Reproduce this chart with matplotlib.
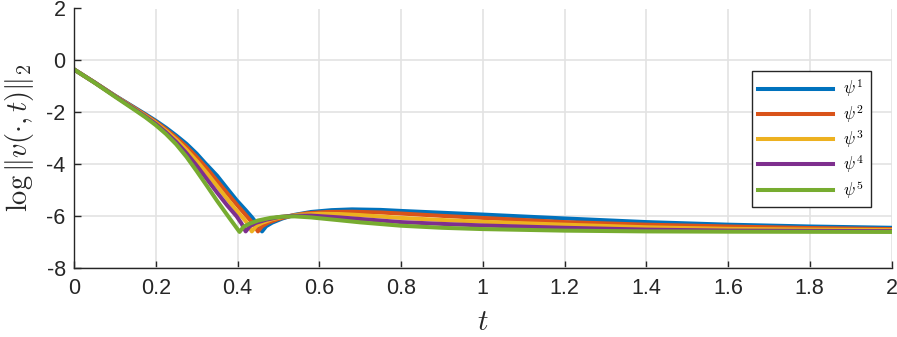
import matplotlib
matplotlib.use("Agg")
import matplotlib.pyplot as plt

# ---- data ----
t_blue = [0, 0.05, 0.1, 0.15, 0.175, 0.2, 0.225, 0.25, 0.275, 0.3, 0.32, 0.35, 0.375, 0.398,
          0.42, 0.435, 0.45, 0.46,
          0.47, 0.485, 0.51, 0.54, 0.58, 0.63, 0.68, 0.75, 0.8, 0.9, 1.0, 1.2, 1.4, 1.6, 1.8, 2.0]
y_blue = [-0.35, -0.85, -1.36, -1.84, -2.08, -2.33, -2.6, -2.9, -3.22, -3.6, -3.95, -4.45, -4.95, -5.4,
          -5.78, -6.05, -6.35, -6.6,
          -6.4, -6.26, -6.1, -5.96, -5.85, -5.78, -5.75, -5.77, -5.81, -5.88, -5.95, -6.1, -6.24, -6.34, -6.41, -6.46]

t_orange = [0, 0.05, 0.1, 0.15, 0.175, 0.2, 0.225, 0.25, 0.275, 0.3, 0.325, 0.35, 0.375, 0.4,
            0.423, 0.44, 0.45,
            0.46, 0.475, 0.5, 0.53, 0.57, 0.62, 0.68, 0.75, 0.8, 0.9, 1.0, 1.2, 1.4, 1.6, 1.8, 2.0]
y_orange = [-0.35, -0.85, -1.37, -1.86, -2.11, -2.37, -2.66, -2.98, -3.33, -3.73, -4.17, -4.65, -5.13, -5.6,
            -6.02, -6.33, -6.6,
            -6.4, -6.26, -6.12, -6.0, -5.9, -5.85, -5.84, -5.87, -5.91, -6.0, -6.08, -6.24, -6.34, -6.41, -6.47, -6.51]

t_yellow = [0, 0.05, 0.1, 0.15, 0.175, 0.2, 0.225, 0.25, 0.275, 0.3, 0.325, 0.35, 0.375, 0.395,
            0.41, 0.425, 0.435,
            0.445, 0.46, 0.485, 0.515, 0.55, 0.6, 0.65, 0.7, 0.8, 0.9, 1.0, 1.2, 1.4, 1.6, 1.8, 2.0]
y_yellow = [-0.35, -0.85, -1.37, -1.88, -2.14, -2.41, -2.72, -3.06, -3.45, -3.88, -4.35, -4.85, -5.35, -5.75,
            -6.02, -6.3, -6.6,
            -6.4, -6.27, -6.13, -6.03, -5.96, -5.92, -5.93, -5.97, -6.08, -6.16, -6.23, -6.34, -6.44, -6.5, -6.53, -6.55]

t_purple = [0, 0.05, 0.1, 0.15, 0.175, 0.2, 0.225, 0.25, 0.275, 0.3, 0.325, 0.35, 0.375, 0.398,
            0.41, 0.42,
            0.43, 0.445, 0.47, 0.5, 0.53, 0.58, 0.65, 0.7, 0.8, 0.9, 1.0, 1.2, 1.4, 1.6, 1.8, 2.0]
y_purple = [-0.35, -0.85, -1.38, -1.9, -2.17, -2.45, -2.78, -3.15, -3.58, -4.06, -4.58, -5.1, -5.6, -6.02,
            -6.3, -6.6,
            -6.4, -6.27, -6.15, -6.05, -6.0, -5.99, -6.06, -6.12, -6.24, -6.31, -6.37, -6.46, -6.53, -6.57, -6.58, -6.59]

t_green = [0, 0.05, 0.1, 0.15, 0.175, 0.2, 0.225, 0.25, 0.275, 0.3, 0.325, 0.35, 0.38, 0.405,
           0.415, 0.43, 0.45, 0.48, 0.51, 0.54, 0.58, 0.65, 0.7, 0.8, 0.9, 1.0, 1.2, 1.4, 1.6, 2.0]
y_green = [-0.35, -0.86, -1.4, -1.93, -2.2, -2.5, -2.84, -3.24, -3.72, -4.27, -4.84, -5.42, -6.08, -6.62,
           -6.42, -6.3, -6.18, -6.08, -6.03, -6.02, -6.06, -6.17, -6.25, -6.38, -6.46, -6.51, -6.57, -6.6, -6.61, -6.62]

labels = [r'$\psi^1$', r'$\psi^2$', r'$\psi^3$', r'$\psi^4$', r'$\psi^5$']
colors = ['#0072BD', '#D95319', '#EDB120', '#7E2F8E', '#77AC30']
x_ticks = [0, 0.2, 0.4, 0.6, 0.8, 1, 1.2, 1.4, 1.6, 1.8, 2]
x_ticklabels = ['0', '0.2', '0.4', '0.6', '0.8', '1', '1.2', '1.4', '1.6', '1.8', '2']
y_ticks = [-8, -6, -4, -2, 0, 2]
y_ticklabels = ['-8', '-6', '-4', '-2', '0', '2']

series = [(t_blue, y_blue), (t_orange, y_orange), (t_yellow, y_yellow),
          (t_purple, y_purple), (t_green, y_green)]

plt.rcParams['mathtext.fontset'] = 'cm'
plt.rcParams['font.family'] = ['Liberation Sans', 'DejaVu Sans']

fig = plt.figure(figsize=(8.97, 3.37), dpi=100)
ax = fig.add_axes([74/897, 1-267.7/337, (891.5-74)/897, (267.7-8.5)/337])

for (tx, ty), c, lab in zip(series, colors, labels):
    ax.plot(tx, ty, color=c, lw=2.9, label=lab, solid_joinstyle='round')

ax.set_xlim(0, 2)
ax.set_ylim(-8, 2)
ax.set_xticks(x_ticks)
ax.set_xticklabels(x_ticklabels)
ax.set_yticks(y_ticks)
ax.set_yticklabels(y_ticklabels)
ax.grid(True, color='#e3e3e3', lw=1.2)
ax.set_axisbelow(True)
for s in ['top', 'right']:
    ax.spines[s].set_visible(False)
for s in ['left', 'bottom']:
    ax.spines[s].set_color('#262626')
    ax.spines[s].set_linewidth(1.0)
ax.tick_params(direction='in', length=5, width=1.0, colors='#262626',
               labelsize=15.5, labelcolor='#262626')
ax.tick_params(axis='x', pad=7.5)
ax.tick_params(axis='y', pad=6)

leg = ax.legend(loc='upper left', bbox_to_anchor=(0.829, 0.759), fontsize=12,
                handlelength=4.5, labelspacing=0.2, handletextpad=0.6,
                borderpad=0.4, fancybox=False, framealpha=1,
                edgecolor='#262626', borderaxespad=0)
leg.get_frame().set_linewidth(1.0)

fig.text(20/897, 1-138/337, r'$\log\|v(\cdot,t)\|_2$', rotation=90,
         ha='center', va='center', fontsize=20.5, color='#262626')
fig.text(483/897, 1-322/337, r'$t$', ha='center', va='center',
         fontsize=21, color='#262626')

fig.savefig('out.png', dpi=100)
